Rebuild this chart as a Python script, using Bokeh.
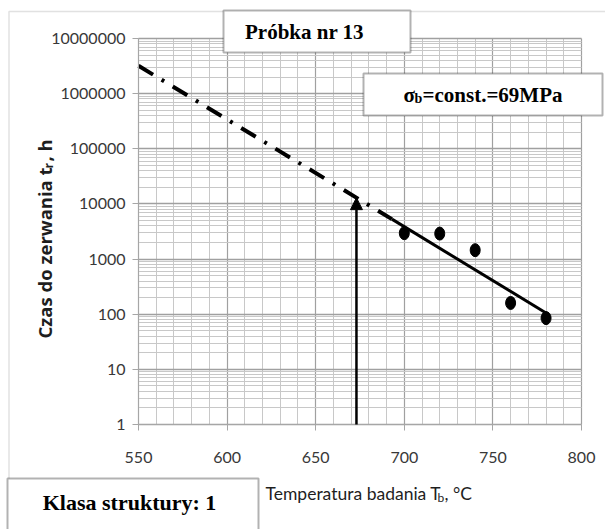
from bokeh.plotting import figure
from bokeh.models import (Range1d, FixedTicker, CustomJSTickFormatter, Label,
                          BoxAnnotation, Arrow, NormalHead, Grid)
from bokeh.embed import file_html
from bokeh.resources import INLINE
import math

# ---------------- data ----------------
x_ticks = [550, 600, 650, 700, 750, 800]
y_ticks = [1, 10, 100, 1000, 10000, 100000, 1000000, 10000000]

# measured points (temperature [C], time to rupture [h])
temp_pts = [700, 720, 740, 760, 780]
time_pts = [2950, 2900, 1450, 160, 85]

# fitted line (solid) and its extrapolation (dash-dot)
fit_temp = [693, 780]
fit_time = [5300, 105]
extra_temp = [550, 693]
extra_time = [3200000, 5300]

# arrow marking the extrapolated temperature
arrow_temp = 673
arrow_time = [1, 13000]

title_txt = "Próbka nr 13"
stress_sym, stress_sub, stress_rest = "σ", "b", "=const.=69MPa"
class_txt = "Klasa struktury: 1"
ylab_a, ylab_sub, ylab_b = "Czas do zerwania t", "r", ", h"
xlab_a, xlab_sub, xlab_b = "Temperatura badania T", "b", ", °C"

# ---------------- layout helpers (page pixel -> data) ----------------
W, H = 605, 529
FL, FR, FT, FB = 138, 581, 38, 424
XMIN, XMAX = x_ticks[0], x_ticks[-1]
YMIN, YMAX = y_ticks[0], y_ticks[-1]
DEC = math.log10(YMAX / YMIN)


def dx(px):
    return XMIN + (px - FL) / (FR - FL) * (XMAX - XMIN)


def dy(py):
    return YMIN * 10 ** (DEC * (FB - py) / (FB - FT))


# the frame spans the whole canvas; the axes are pinned at the chart's lower-left corner
p = figure(width=W, height=H, output_backend="svg", toolbar_location=None,
           x_range=Range1d(dx(0), dx(W)), y_range=Range1d(dy(H), dy(0)),
           y_axis_type="log", min_border=0)
p.outline_line_color = None
p.background_fill_color = "white"
p.border_fill_color = "white"

minor_x = [v for v in range(XMIN, XMAX + 1, 10) if v not in x_ticks]
minor_y = [m * 10 ** k for k in range(7) for m in range(2, 10)]
p.xaxis.ticker = FixedTicker(ticks=x_ticks, minor_ticks=minor_x)
p.yaxis.ticker = FixedTicker(ticks=y_ticks, minor_ticks=minor_y)
p.yaxis.formatter = CustomJSTickFormatter(code="return Math.round(tick).toString()")
p.xaxis.fixed_location = YMIN
p.yaxis.fixed_location = XMIN
p.xaxis.bounds = (XMIN, XMAX)
p.yaxis.bounds = (YMIN, YMAX)

for ax in (p.xaxis, p.yaxis):
    ax.axis_line_color = "#a6a6a6"
    ax.major_tick_line_color = "#a6a6a6"
    ax.major_tick_out = 6
    ax.major_tick_in = 0
    ax.minor_tick_line_color = None
    ax.major_label_text_font = "Lato"
    ax.major_label_text_font_size = "16px"
    ax.major_label_text_color = "#383838"
p.xaxis.major_label_standoff = 21
p.yaxis.major_label_standoff = 7

MAJ_C, MIN_C = "#a0a0a0", "#c8c8c8"
if "cross_bounds" in Grid.properties():
    p.xgrid.bounds = (XMIN, XMAX)
    p.xgrid.cross_bounds = (YMIN, YMAX)
    p.ygrid.bounds = (YMIN, YMAX)
    p.ygrid.cross_bounds = (XMIN, XMAX)
    for g, w in ((p.xgrid, 1.2), (p.ygrid, 1.5)):
        g.grid_line_color = MAJ_C
        g.grid_line_width = w
        g.minor_grid_line_color = MIN_C
else:
    p.xgrid.visible = False
    p.ygrid.visible = False
    p.segment(x0=minor_x, x1=minor_x, y0=[YMIN] * len(minor_x), y1=[YMAX] * len(minor_x),
              line_color=MIN_C, line_width=1)
    p.segment(x0=[XMIN] * len(minor_y), x1=[XMAX] * len(minor_y), y0=minor_y, y1=minor_y,
              line_color=MIN_C, line_width=1)
    p.segment(x0=x_ticks, x1=x_ticks, y0=[YMIN] * len(x_ticks), y1=[YMAX] * len(x_ticks),
              line_color=MAJ_C, line_width=1.2)
    p.segment(x0=[XMIN] * len(y_ticks), x1=[XMAX] * len(y_ticks), y0=y_ticks, y1=y_ticks,
              line_color=MAJ_C, line_width=1.5)

# lines
p.line(extra_temp, extra_time, line_color="black", line_width=4, line_dash="17 10 3 10")
p.line(fit_temp, fit_time, line_color="black", line_width=3)
# points
p.ellipse(x=temp_pts, y=time_pts, width=10, height=13, width_units="screen",
          height_units="screen", fill_color="black", line_color="black")
# arrow
p.add_layout(Arrow(end=NormalHead(size=12, fill_color="black", line_color="black"),
                   x_start=arrow_temp, y_start=arrow_time[0], x_end=arrow_temp,
                   y_end=arrow_time[1], line_width=2.5, line_color="black"))

# outer gray frame (top and left edges)
p.add_layout(BoxAnnotation(left=dx(8.5), right=dx(900), top=dy(11), bottom=dy(900),
                           fill_color=None, line_color="#9a9a9a", line_width=1.5))


def box(l, r, t, b):
    p.add_layout(BoxAnnotation(left=dx(l), right=dx(r), top=dy(t), bottom=dy(b),
                               fill_color="white", fill_alpha=1.0,
                               line_color="black", line_width=2))


box(223, 410, 10, 52)
box(363, 602, 73, 115)
box(7, 258, 478, 600)

serif = "Liberation Serif"


def lab(px, py, text, font, size, style="bold", align="left", angle=0, color="black"):
    p.add_layout(Label(x=dx(px), y=dy(py), text=text, text_font=font,
                       text_font_size=size, text_font_style=style, text_align=align,
                       text_baseline="middle", angle=angle, text_color=color))


lab(304, 31, title_txt, serif, "21px", align="center")
lab(403, 94, stress_sym, serif, "21px")
lab(414, 98, stress_sub, serif, "14px")
lab(422, 94, stress_rest, serif, "21px")
lab(129, 502, class_txt, serif, "22px", align="center")

# x axis label
lab(265, 493, xlab_a, "Lato", "17.5px", style="normal", color="#1e1e1e")
lab(437, 497, xlab_sub, "Lato", "12px", style="normal", color="#1e1e1e")
lab(444, 493, xlab_b, "Lato", "17.5px", style="normal", color="#1e1e1e")

# y axis label (rotated)
lab(44, 338, ylab_a, "Open Sans", "18.5px", angle=math.pi / 2, color="#1e1e1e")
lab(48, 168, ylab_sub, "Open Sans", "12px", angle=math.pi / 2, color="#1e1e1e")
lab(44, 161, ylab_b, "Open Sans", "18.5px", angle=math.pi / 2, color="#1e1e1e")

open("out.html", "w").write(file_html(p, INLINE))
